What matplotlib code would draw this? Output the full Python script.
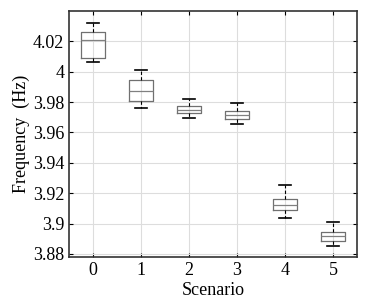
import matplotlib.pyplot as plt

plt.rcParams['font.family'] = ['Liberation Serif', 'DejaVu Serif']

scenarios = [0, 1, 2, 3, 4, 5]
whislo = [4.0062, 3.9761, 3.9695, 3.9656, 3.9036, 3.8850]
q1 = [4.0091, 3.9807, 3.9726, 3.9687, 3.9092, 3.8887]
med = [4.0209, 3.9871, 3.9750, 3.9717, 3.9123, 3.8920]
q3 = [4.0264, 3.9948, 3.9772, 3.9744, 3.9161, 3.8946]
whishi = [4.0323, 4.0009, 3.9822, 3.9796, 3.9254, 3.9013]
yticks = [3.88, 3.9, 3.92, 3.94, 3.96, 3.98, 4, 4.02]
ytick_labels = ['3.88', '3.9', '3.92', '3.94', '3.96', '3.98', '4', '4.02']

stats = []
for i in range(len(scenarios)):
    stats.append(dict(whislo=whislo[i], q1=q1[i], med=med[i], q3=q3[i],
                      whishi=whishi[i], fliers=[]))

fig = plt.figure(figsize=(3.81, 3.05), dpi=100)
ax = fig.add_axes([69/381, 1 - 257/305, 288/381, 246/305])

ax.bxp(stats, positions=scenarios, widths=0.5, showfliers=False,
       boxprops=dict(color='#707070', linewidth=0.9),
       medianprops=dict(color='#808080', linewidth=0.9),
       whiskerprops=dict(color='black', linewidth=0.8, linestyle=(0, (3, 2))),
       capprops=dict(color='black', linewidth=1.2),
       capwidths=0.25)

ax.set_xlim(-0.5, 5.5)
ax.set_ylim(3.878, 4.04)
ax.set_xticks(scenarios)
ax.set_xticklabels([str(s) for s in scenarios])
ax.set_yticks(yticks)
ax.set_yticklabels(ytick_labels)
ax.grid(True, color='#dddddd', linewidth=0.8)
ax.set_axisbelow(True)
ax.tick_params(direction='in', top=True, right=True, labelsize=13, length=3, width=0.8)
for sp in ax.spines.values():
    sp.set_linewidth(1.2)
    sp.set_color('#333333')

ax.set_xlabel('Scenario', fontsize=13, labelpad=2)
ax.set_ylabel('Frequency  (Hz)', fontsize=13, labelpad=2)

fig.savefig('out.png', dpi=100)
